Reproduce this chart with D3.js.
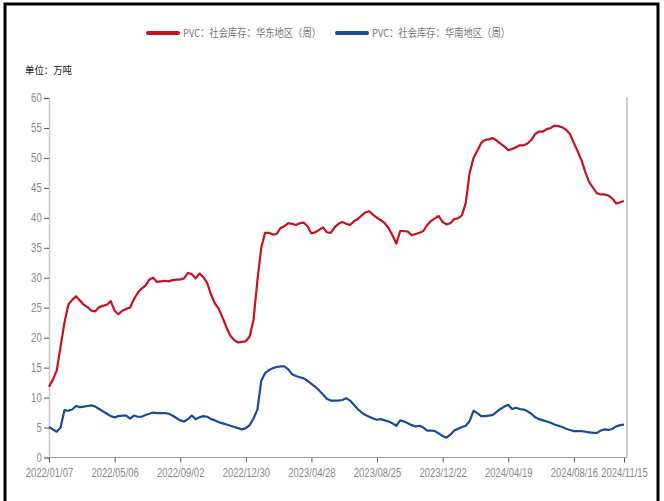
<!DOCTYPE html>
<html>
<head>
<meta charset="utf-8">
<script src="https://cdn.jsdelivr.net/npm/d3@7"></script>
<style>
  body { margin: 0; background: #fff; }
  svg { display: block; }
</style>
</head>
<body>
<svg id="chart" width="664" height="501"></svg>
<script>
// series names (legend)
const seriesNames = ['PVC：社会库存：华东地区（周）', 'PVC：社会库存：华南地区（周）'];

// weekly, 2022/01/07 .. 2024/11/15, 150 weeks, unit: 万吨
const eastChina = [
  11.8, 13.0, 14.5, 18.5, 22.5, 25.5, 26.3, 26.9, 26.2, 25.5,
  25.1, 24.5, 24.4, 25.1, 25.3, 25.5, 26.1, 24.5, 23.9, 24.5,
  24.8, 25.0, 26.4, 27.5, 28.2, 28.7, 29.7, 30.0, 29.3, 29.4,
  29.5, 29.4, 29.6, 29.7, 29.7, 29.9, 30.8, 30.6, 29.9, 30.7,
  30.1, 29.1, 27.2, 25.7, 24.8, 23.3, 21.7, 20.3, 19.6, 19.2,
  19.3, 19.4, 20.2, 23.0, 29.5, 35.0, 37.5, 37.5, 37.2, 37.3,
  38.3, 38.6, 39.1, 39.0, 38.8, 39.1, 39.2, 38.6, 37.4, 37.6,
  38.0, 38.4, 37.6, 37.5, 38.4, 39.0, 39.3, 39.0, 38.8, 39.4,
  39.8, 40.4, 40.9, 41.1, 40.5, 40.0, 39.6, 39.1, 38.3, 37.1,
  35.7, 37.8, 37.8, 37.7, 37.1, 37.3, 37.5, 37.8, 38.8, 39.5,
  39.9, 40.3, 39.3, 38.9, 39.1, 39.8, 39.9, 40.4, 42.5, 47.5,
  50.0, 51.2, 52.5, 53.0, 53.1, 53.3, 52.9, 52.4, 51.9, 51.3,
  51.5, 51.8, 52.1, 52.1, 52.4, 53.0, 54.0, 54.4, 54.4, 54.8,
  55.0, 55.4, 55.3, 55.1, 54.7, 54.0, 52.5, 51.1, 49.6, 47.6,
  45.9, 45.0, 44.1, 43.9, 43.9, 43.7, 43.2, 42.4, 42.6, 42.8
];

const southChina = [
  5.1, 4.7, 4.3, 5.0, 7.9, 7.8, 8.0, 8.6, 8.4, 8.5,
  8.6, 8.7, 8.5, 8.1, 7.7, 7.3, 6.9, 6.7, 6.9, 7.0,
  7.0, 6.5, 7.0, 6.8, 6.8, 7.1, 7.3, 7.5, 7.4, 7.4,
  7.4, 7.3, 7.0, 6.6, 6.2, 6.0, 6.4, 7.0, 6.4, 6.7,
  6.9, 6.8, 6.4, 6.2, 5.9, 5.7, 5.5, 5.3, 5.1, 4.9,
  4.7, 4.9, 5.4, 6.5, 8.0, 12.8, 14.1, 14.6, 14.9, 15.1,
  15.2, 15.2, 14.7, 13.9, 13.6, 13.4, 13.2, 12.8, 12.3, 11.8,
  11.2, 10.5, 9.8, 9.5, 9.5, 9.5, 9.6, 9.9, 9.5, 8.8,
  8.1, 7.5, 7.1, 6.8, 6.5, 6.3, 6.4, 6.2, 6.0, 5.7,
  5.3, 6.2, 6.0, 5.7, 5.4, 5.2, 5.3, 5.0, 4.5, 4.5,
  4.4, 4.0, 3.6, 3.3, 3.8, 4.5, 4.8, 5.1, 5.3, 6.1,
  7.8, 7.4, 6.9, 6.9, 7.0, 7.1, 7.6, 8.1, 8.5, 8.8,
  8.1, 8.3, 8.1, 8.0, 7.7, 7.3, 6.7, 6.4, 6.2, 6.0,
  5.8, 5.5, 5.3, 5.1, 4.8, 4.6, 4.4, 4.4, 4.4, 4.3,
  4.2, 4.1, 4.1, 4.5, 4.7, 4.6, 4.8, 5.2, 5.4, 5.5
];

const tickLabels = ['2022/01/07', '2022/05/06', '2022/09/02', '2022/12/30', '2023/04/28',
  '2023/08/25', '2023/12/22', '2024/04/19', '2024/08/16', '2024/11/15'];

const yTicks = [0, 5, 10, 15, 20, 25, 30, 35, 40, 45, 50, 55, 60];

const colors = ['#c8111e', '#1a4b99'];

const parseDate = d3.timeParse('%Y/%m/%d');
const fmtDate = d3.timeFormat('%Y/%m/%d');
const firstWeek = parseDate(tickLabels[0]);
const dates = eastChina.map((v, i) => d3.timeDay.offset(firstWeek, i * 7));

const svg = d3.select('#chart');

// outer frame (bottom edge is cropped off in the original)
svg.append('rect')
  .attr('x', 5).attr('y', 4)
  .attr('width', 653).attr('height', 560)
  .attr('fill', 'none')
  .attr('stroke', '#000')
  .attr('stroke-width', 3);

const plotLeft = 49, plotRight = 624, plotTop = 98, plotBottom = 457.5;

const x = d3.scaleTime()
  .domain([dates[0], dates[dates.length - 1]])
  .range([plotLeft, plotRight]);

const y = d3.scaleLinear()
  .domain([0, 60])
  .range([plotBottom, plotTop]);

// the original uses a narrow face; squeeze a normal one instead
const axisFont = '"Liberation Sans", Arial, sans-serif';
const cjkFont = '"Noto Sans CJK SC", sans-serif';

// y axis
const yAxis = svg.append('g')
  .attr('transform', `translate(${plotLeft},0)`)
  .call(d3.axisLeft(y).tickValues(yTicks).tickSize(5).tickPadding(4))
yAxis.select('.domain').attr('stroke', '#c8c8c8').attr('stroke-width', 1.5)
yAxis.selectAll('.tick line').attr('stroke', '#555')
yAxis.selectAll('.tick text')
  .attr('fill', '#888')
  .attr('transform', 'scale(0.8,1)')
  .style('font-family', axisFont)
  .style('font-size', '12px')

// right border line of the plot
svg.append('line')
  .attr('x1', 627).attr('x2', 627)
  .attr('y1', plotTop - 1).attr('y2', plotBottom)
  .attr('stroke', '#999')

// x axis
const xAxis = svg.append('g')
  .attr('transform', `translate(0,${plotBottom})`)
  .call(d3.axisBottom(x)
    .tickValues(tickLabels.map(parseDate))
    .tickFormat(fmtDate)
    .tickSize(5)
    .tickPadding(6))
xAxis.select('.domain').remove()
xAxis.selectAll('.tick line').attr('stroke', '#555')
xAxis.selectAll('.tick text')
  .attr('fill', '#888')
  .attr('transform', 'scale(0.79,1)')
  .style('font-family', axisFont)
  .style('font-size', '12px')

svg.append('line')
  .attr('x1', plotLeft).attr('x2', 627)
  .attr('y1', plotBottom).attr('y2', plotBottom)
  .attr('stroke', '#999')

// lines
const line = d3.line()
  .x((d, i) => x(dates[i]))
  .y(d => y(d))

;[eastChina, southChina].forEach((series, k) => {
  svg.append('path')
    .datum(series)
    .attr('fill', 'none')
    .attr('stroke', colors[k])
    .attr('stroke-width', 2.2)
    .attr('stroke-linejoin', 'round')
    .attr('d', line)
})

// unit label
svg.append('text')
  .text('单位：万吨')
  .attr('x', 25).attr('y', 74)
  .attr('textLength', 47)
  .attr('lengthAdjust', 'spacingAndGlyphs')
  .attr('fill', '#222')
  .style('font-family', cjkFont)
  .style('font-size', '10.5px')

// legend
const legendX = [148, 337];
seriesNames.forEach((name, k) => {
  const g = svg.append('g').attr('transform', `translate(${legendX[k]},33)`)
  g.append('line')
    .attr('x1', 0).attr('x2', 30)
    .attr('stroke', colors[k])
    .attr('stroke-width', 4)
    .attr('stroke-linecap', 'round')
  g.append('text')
    .text(name)
    .attr('x', 35).attr('y', 4)
    .attr('textLength', 138)
    .attr('lengthAdjust', 'spacingAndGlyphs')
    .attr('fill', '#777')
    .style('font-family', cjkFont)
    .style('font-size', '11px')
})
</script>
</body>
</html>
